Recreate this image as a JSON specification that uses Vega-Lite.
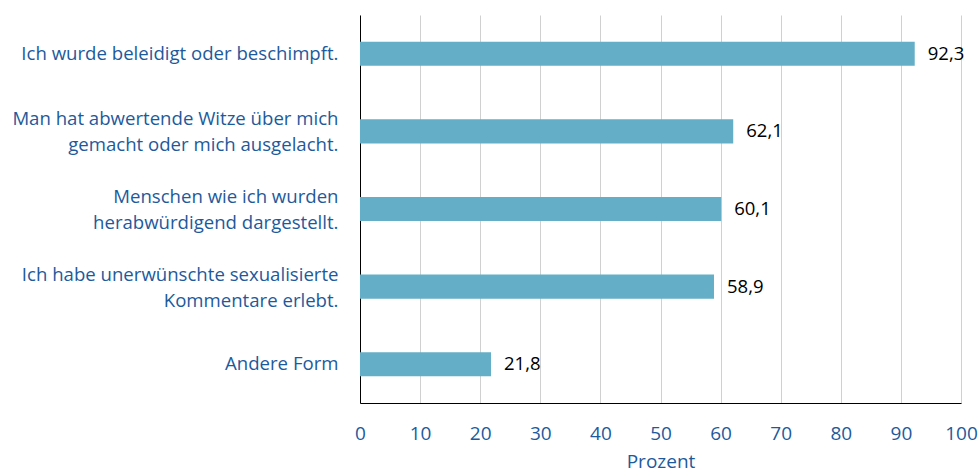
{
  "$schema": "https://vega.github.io/schema/vega-lite/v6.json",
  "width": 601,
  "height": 388,
  "autosize": {"type": "none"},
  "padding": {"left": 360, "top": 15, "right": 19, "bottom": 72},
  "background": "white",
  "config": {"view": {"stroke": null}, "font": "Open Sans"},
  "data": {
    "values": [
      {"kategorie": "Ich wurde beleidigt oder beschimpft.", "wert": 92.3, "text": "92,3"},
      {"kategorie": "Man hat abwertende Witze über mich|gemacht oder mich ausgelacht.", "wert": 62.1, "text": "62,1"},
      {"kategorie": "Menschen wie ich wurden|herabwürdigend dargestellt.", "wert": 60.1, "text": "60,1"},
      {"kategorie": "Ich habe unerwünschte sexualisierte|Kommentare erlebt.", "wert": 58.9, "text": "58,9"},
      {"kategorie": "Andere Form", "wert": 21.8, "text": "21,8"}
    ]
  },
  "encoding": {
    "y": {
      "field": "kategorie",
      "type": "nominal",
      "sort": null,
      "scale": {"paddingInner": 0.69, "paddingOuter": 0.345},
      "axis": {
        "title": null,
        "labelExpr": "split(datum.label, '|')",
        "labelFontSize": 18.6,
        "labelColor": "#1d5a9c",
        "labelLineHeight": 26,
        "labelOffset": {"condition": {"test": "indexof(datum.value, '|') >= 0", "value": -12}, "value": 0},
        "labelPadding": 22,
        "labelLimit": 400,
        "ticks": false,
        "domainColor": "#000000",
        "domainWidth": 1,
        "grid": false
      }
    },
    "x": {
      "field": "wert",
      "type": "quantitative",
      "scale": {"domain": [0, 100]},
      "axis": {
        "title": "Prozent",
        "titleFontSize": 19,
        "titleFontWeight": "normal",
        "titleColor": "#1d5a9c",
        "titlePadding": 9,
        "values": [0, 10, 20, 30, 40, 50, 60, 70, 80, 90, 100],
        "labelFontSize": 19,
        "labelColor": "#1d5a9c",
        "labelPadding": 21,
        "labelFlush": false,
        "ticks": false,
        "domainColor": "#000000",
        "grid": true,
        "gridColor": "#d0d0d0",
        "gridWidth": 1
      }
    }
  },
  "layer": [
    {"mark": {"type": "bar", "color": "#64afc7"}},
    {
      "mark": {"type": "text", "align": "left", "dx": 13, "fontSize": 18.5, "color": "#000000"},
      "encoding": {"text": {"field": "text"}}
    }
  ]
}
